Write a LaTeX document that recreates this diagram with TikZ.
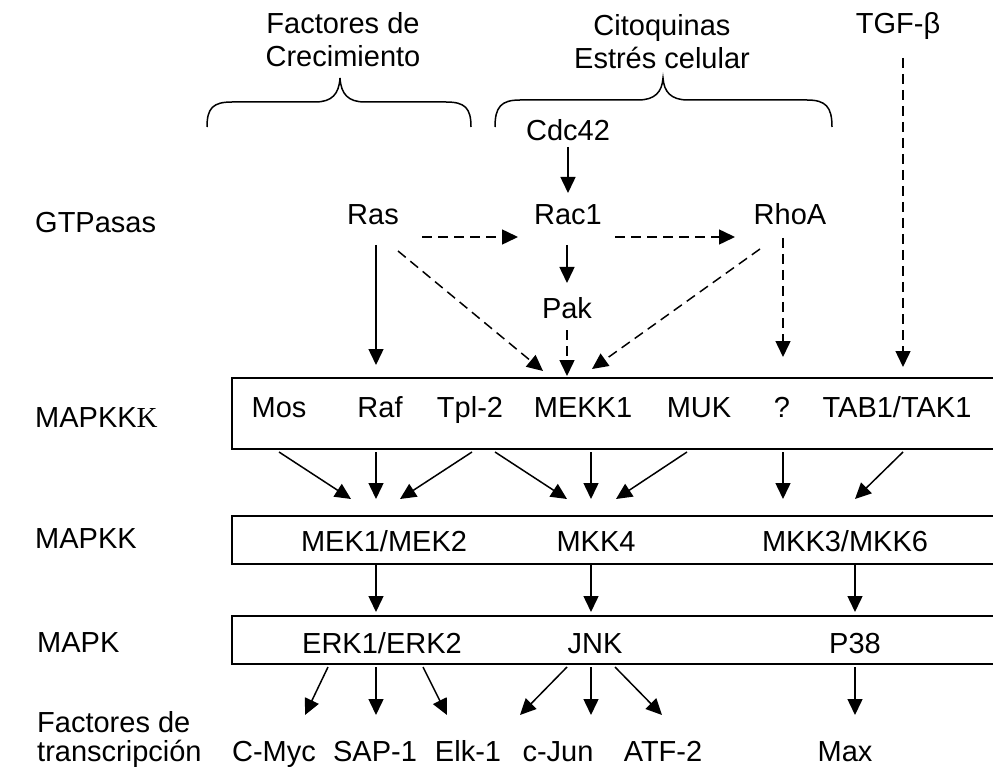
\documentclass[tikz,border=0pt]{standalone}
\usepackage{fontspec}
\setmainfont{Liberation Sans}
\newfontfamily\timesK{Liberation Serif}
\usetikzlibrary{arrows.meta,calc}
\begin{document}
\begin{tikzpicture}[x=1pt,y=-1pt,
  every node/.style={inner sep=0pt, font=\fontsize{29}{33}\selectfont},
  lbl/.style={anchor=base},
  lft/.style={anchor=base west},
  arr/.style={line width=1.5pt,-{Triangle[length=16pt,width=15pt]}},
  darr/.style={arr,dash pattern=on 10pt off 6pt},
  rowbox/.style={draw,line width=1.5pt,anchor=north west,minimum width=766pt},
  brace/.style={line width=1.5pt}]
\useasboundingbox (0,0) rectangle (993,767);

% row boxes (right side runs past the picture edge)
\node[rowbox,minimum height=71pt] (kkkbox) at (231,377) {};
\node[rowbox,minimum height=48pt] (kkbox) at (231,515) {};
\node[rowbox,minimum height=48pt] (kbox) at (231,615) {};

% top labels
\node[anchor=north,align=center] (fc) at (343,12) {Factores de\\Crecimiento};
\node[anchor=north,align=center] (ce) at (662,14) {Citoquinas\\Estrés celular};
\node[lbl] (tgf) at (898,34) {TGF-β};

% braces
\draw[brace] (207,127) .. controls (207,108) and (213,102) .. (232,102) -- (315,102)
  .. controls (332,102) and (339,94) .. (340,78)
  .. controls (341,94) and (348,102) .. (365,102) -- (446,102)
  .. controls (465,102) and (471,108) .. (471,127);
\draw[brace] (495,127) .. controls (495,107) and (501,100) .. (520,100) -- (638,100)
  .. controls (655,100) and (662,92) .. (663,78)
  .. controls (664,92) and (671,100) .. (688,100) -- (807,100)
  .. controls (826,100) and (832,107) .. (832,127);

% left labels
\node[lft] (gtp) at (35,233) {GTPasas};
\node[lft] (lkkk) at (35,427) {MAPKK{\timesK K}};
\node[lft] (lkk) at (35,548) {MAPKK};
\node[lft] (lk) at (37,652) {MAPK};
\node[anchor=north west,align=left,font=\fontsize{29}{29}\selectfont] (ltf) at (37,711) {Factores de\\transcripción};

% GTPases
\node[lbl] (cdc) at (568,141) {Cdc42};
\node[lbl] (ras) at (373,225) {Ras};
\node[lbl] (rac) at (568,225) {Rac1};
\node[lbl] (rho) at (790,225) {RhoA};
\node[lbl] (pak) at (567,318) {Pak};

% MAPKKK
\node[lbl] (mos) at (279,417) {Mos};
\node[lbl] (raf) at (380,417) {Raf};
\node[lbl] (tpl) at (470,417) {Tpl-2};
\node[lbl] (mekk) at (583,417) {MEKK1};
\node[lbl] (muk) at (699,417) {MUK};
\node[lbl] (qq) at (782,417) {?};
\node[lbl] (tab) at (897,417) {TAB1/TAK1};

% MAPKK
\node[lbl] (mek) at (384,551) {MEK1/MEK2};
\node[lbl] (mkkf) at (596,551) {MKK4};
\node[lbl] (mkkt) at (845,551) {MKK3/MKK6};

% MAPK
\node[lbl] (erk) at (382,653) {ERK1/ERK2};
\node[lbl] (jnk) at (595,653) {JNK};
\node[lbl] (pte) at (855,653) {P38};

% transcription factors
\node[lbl] (cmyc) at (274,761) {C-Myc};
\node[lbl] (sap) at (375,761) {SAP-1};
\node[lbl] (elk) at (468,761) {Elk-1};
\node[lbl] (cjun) at (558,761) {c-Jun};
\node[lbl] (atf) at (663,761) {ATF-2};
\node[lbl] (max) at (845,761) {Max};

% GTPase level connectors
\draw[arr] ($(cdc.base)+(0,6)$) -- ($(rac.base)+(0,-32)$);
\draw[arr] ($(rac.base)+(-1,20)$) -- ($(pak.base)+(0,-35)$);
\draw[arr] ($(ras.base)+(3,20)$) -- ($(raf.base)+(-4,-52)$);
\draw[darr] ($(ras.base)+(49,12)$) -- ($(rac.base)+(-50,12)$);
\draw[darr] ($(rac.base)+(47,12)$) -- ($(rho.base)+(-55,12)$);
\draw[darr] ($(ras.base)+(25,26)$) -- ($(mekk.base)+(-40,-46)$);
\draw[darr] ($(pak.base)+(0,12)$) -- ($(mekk.base)+(-16,-41)$);
\draw[darr] ($(rho.base)+(-30,24)$) -- ($(mekk.base)+(9,-48)$);
\draw[darr] ($(rho.base)+(-7,13)$) -- ($(qq.base)+(1,-60)$);
\draw[darr] ($(tgf.base)+(5,24)$) -- ($(tab.base)+(6,-50)$);

% MAPKKK -> MAPKK
\draw[arr] ($(mos.base)+(0,35)$) -- ($(mek.base)+(-33,-52)$);
\draw[arr] ($(raf.base)+(-4,35)$) -- ($(mek.base)+(-8,-52)$);
\draw[arr] ($(tpl.base)+(2,35)$) -- ($(mek.base)+(16,-52)$);
\draw[arr] ($(tpl.base)+(25,35)$) -- ($(mkkf.base)+(-29,-52)$);
\draw[arr] ($(mekk.base)+(8,35)$) -- ($(mkkf.base)+(-5,-52)$);
\draw[arr] ($(muk.base)+(-12,35)$) -- ($(mkkf.base)+(20,-52)$);
\draw[arr] ($(qq.base)+(1,35)$) -- ($(mkkt.base)+(-62,-52)$);
\draw[arr] ($(tab.base)+(6,35)$) -- ($(mkkt.base)+(10,-52)$);

% MAPKK -> MAPK
\draw[arr] ($(mek.base)+(-8,12)$) -- ($(erk.base)+(-6,-41)$);
\draw[arr] ($(mkkf.base)+(-5,12)$) -- ($(jnk.base)+(-4,-41)$);
\draw[arr] ($(mkkt.base)+(10,12)$) -- ($(pte.base)+(0,-41)$);

% MAPK -> transcription factors
\draw[arr] ($(erk.base)+(-54,14)$) -- ($(cmyc.base)+(31,-46)$);
\draw[arr] ($(erk.base)+(-6,14)$) -- ($(sap.base)+(1,-46)$);
\draw[arr] ($(erk.base)+(41,14)$) -- ($(elk.base)+(-21,-46)$);
\draw[arr] ($(jnk.base)+(-28,14)$) -- ($(elk.base)+(52,-46)$);
\draw[arr] ($(jnk.base)+(-4,14)$) -- ($(cjun.base)+(33,-46)$);
\draw[arr] ($(jnk.base)+(20,14)$) -- ($(atf.base)+(-1,-46)$);
\draw[arr] ($(pte.base)+(0,14)$) -- ($(max.base)+(10,-46)$);
\end{tikzpicture}
\end{document}
